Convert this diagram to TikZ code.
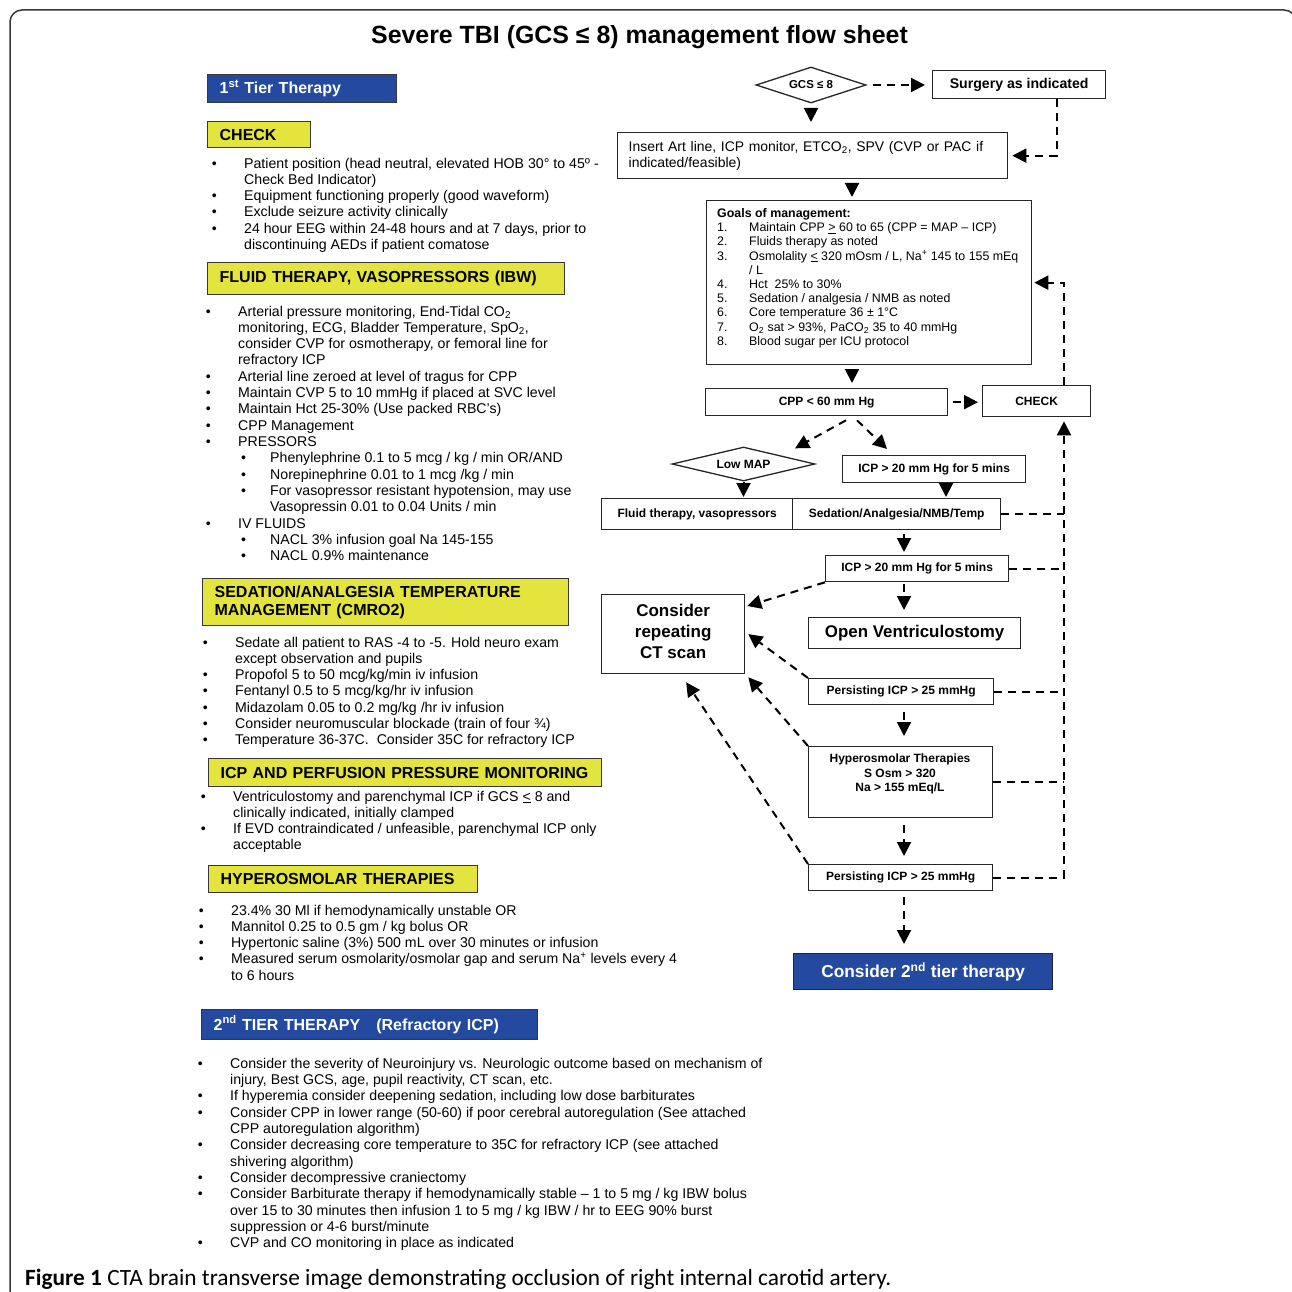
\documentclass[tikz,border=0pt]{standalone}
\usepackage{fontspec}
\setmainfont{Liberation Sans}
\newfontfamily\capfont{Carlito}
\usetikzlibrary{arrows.meta,shapes.geometric,calc}
\definecolor{ylw}{RGB}{228,228,62}
\definecolor{blu}{RGB}{35,74,158}
\definecolor{frm}{RGB}{55,55,55}
\newcommand\blist[2]{\vtop{\baselineskip=#1\lineskiplimit=-100pt\lineskip=0pt\halign{##\hfil\cr#2\crcr}}}
\newcommand\clist[2]{\vtop{\baselineskip=#1\lineskiplimit=-100pt\lineskip=0pt\halign{\hfil##\hfil\cr#2\crcr}}}
\newcommand\bi{\makebox[32.3pt][l]{•}}
\newcommand\ci{\hskip32.3pt}
\newcommand\sbi{\hskip35.3pt\makebox[29pt][l]{•}}
\newcommand\sci{\hskip64.3pt}
\newcommand\gn[1]{\makebox[32pt][l]{#1}}
\begin{document}
\begin{tikzpicture}[x=1pt,y=-1pt,
  hb/.style={draw=frm, line width=1.3pt, anchor=north west, inner xsep=12pt, inner ysep=0pt, align=left, font=\fontsize{16}{18}\selectfont\bfseries},
  fb/.style={draw=black!85, line width=1.3pt, anchor=north west, inner sep=0pt, font=\fontsize{12}{14}\selectfont\bfseries},
  dia/.style={diamond, draw=black!85, line width=1.3pt, inner sep=0pt},
  lst/.style={anchor=base west, inner sep=0pt, font=\fontsize{14.15}{16.3}\selectfont},
  sa/.style={line width=2pt, -{Triangle[width=14pt,length=14pt]}},
  da/.style={sa, dash pattern=on 8pt off 6pt},
  dl/.style={line width=2pt, dash pattern=on 8pt off 6pt}]
\useasboundingbox (0,0) rectangle (1292,1292);
\begin{scope}
\clip (0,0) rectangle (1292,1292);
\draw[line width=1.5pt, frm, rounded corners=12pt] (10,1330) -- (10,10) -- (1296,10) -- (1296,1330);
\end{scope}

\node[font=\fontsize{24.9}{28}\selectfont\bfseries] (title) at (639.5,37) {Severe TBI (GCS ≤ 8) management flow sheet};

% ---------- left column ----------
\node[hb, fill=blu, text=white, minimum height=28pt, text width=165pt] (t1) at (207,74) {\mbox{1\textsuperscript{st} Tier Therapy}};
\node[hb, fill=ylw, minimum height=26pt, text width=79pt] (hchk) at (207,121) {\mbox{CHECK}};
\node[lst] (lchk) at (211.7,168) {\blist{16.3pt}{%
\bi Patient position (head neutral, elevated HOB 30° to 45º -\cr
\ci Check Bed Indicator)\cr
\bi Equipment functioning properly (good waveform)\cr
\bi Exclude seizure activity clinically\cr
\bi 24 hour EEG within 24-48 hours and at 7 days, prior to\cr
\ci discontinuing AEDs if patient comatose}};

\node[hb, fill=ylw, minimum height=32pt, text width=333pt] (hfl) at (207,262) {\mbox{FLUID THERAPY, VASOPRESSORS (IBW)}};
\node[lst] (lfl) at (205.7,316) {\blist{16.33pt}{%
\bi Arterial pressure monitoring, End-Tidal CO\textsubscript{2}\cr
\ci monitoring, ECG, Bladder Temperature, SpO\textsubscript{2},\cr
\ci consider CVP for osmotherapy, or femoral line for\cr
\ci refractory ICP\cr
\bi Arterial line zeroed at level of tragus for CPP\cr
\bi Maintain CVP 5 to 10 mmHg if placed at SVC level\cr
\bi Maintain Hct 25-30\% (Use packed RBC’s)\cr
\bi CPP Management\cr
\bi PRESSORS\cr
\sbi Phenylephrine 0.1 to 5 mcg / kg / min OR/AND\cr
\sbi Norepinephrine 0.01 to 1 mcg /kg / min\cr
\sbi For vasopressor resistant hypotension, may use\cr
\sci Vasopressin 0.01 to 0.04 Units / min\cr
\bi IV FLUIDS\cr
\sbi NACL 3\% infusion goal Na 145-155\cr
\sbi NACL 0.9\% maintenance}};

\node[hb, fill=ylw, minimum height=47pt, text width=342pt] (hsed) at (202,578) {\mbox{SEDATION/ANALGESIA TEMPERATURE}\\\mbox{MANAGEMENT (CMRO2)}};
\node[lst] (lsed) at (202.7,647) {\blist{16.3pt}{%
\bi Sedate all patient to RAS -4 to -5. Hold neuro exam\cr
\ci except observation and pupils\cr
\bi Propofol 5 to 50 mcg/kg/min iv infusion\cr
\bi Fentanyl 0.5 to 5 mcg/kg/hr iv infusion\cr
\bi Midazolam 0.05 to 0.2 mg/kg /hr iv infusion\cr
\bi Consider neuromuscular blockade (train of four ¾)\cr
\bi Temperature 36-37C.\ \ Consider 35C for refractory ICP}};

\node[hb, fill=ylw, minimum height=28pt, text width=369pt] (hicp) at (208,758) {\mbox{ICP AND PERFUSION PRESSURE MONITORING}};
\node[lst] (licp) at (200.7,801) {\blist{16.3pt}{%
\bi Ventriculostomy and parenchymal ICP if GCS \underline{<} 8 and\cr
\ci clinically indicated, initially clamped\cr
\bi If EVD contraindicated / unfeasible, parenchymal ICP only\cr
\ci acceptable}};

\node[hb, fill=ylw, minimum height=27pt, text width=245pt] (hhyp) at (208,865) {\mbox{HYPEROSMOLAR THERAPIES}};
\node[lst] (lhyp) at (198.7,915) {\blist{16.3pt}{%
\bi 23.4\% 30 Ml if hemodynamically unstable OR\cr
\bi Mannitol 0.25 to 0.5 gm / kg bolus OR\cr
\bi Hypertonic saline (3\%) 500 mL over 30 minutes or infusion\cr
\bi Measured serum osmolarity/osmolar gap and serum Na\textsuperscript{+} levels every 4\cr
\ci to 6 hours}};

\node[hb, fill=blu, text=white, minimum height=30pt, text width=312pt] (t2) at (201,1009) {\mbox{2\textsuperscript{nd} TIER THERAPY\ \ \ (Refractory ICP)}};
\node[lst] (lt2) at (197.7,1068) {\blist{16.36pt}{%
\bi Consider the severity of Neuroinjury vs. Neurologic outcome based on mechanism of\cr
\ci injury, Best GCS, age, pupil reactivity, CT scan, etc.\cr
\bi If hyperemia consider deepening sedation, including low dose barbiturates\cr
\bi Consider CPP in lower range (50-60) if poor cerebral autoregulation (See attached\cr
\ci CPP autoregulation algorithm)\cr
\bi Consider decreasing core temperature to 35C for refractory ICP (see attached\cr
\ci shivering algorithm)\cr
\bi Consider decompressive craniectomy\cr
\bi Consider Barbiturate therapy if hemodynamically stable – 1 to 5 mg / kg IBW bolus\cr
\ci over 15 to 30 minutes then infusion 1 to 5 mg / kg IBW / hr to EEG 90\% burst\cr
\ci suppression or 4-6 burst/minute\cr
\bi CVP and CO monitoring in place as indicated}};

\node[anchor=base west, inner sep=0pt, font=\capfont\fontsize{23.3}{26}\selectfont] (cap) at (25,1285) {\textbf{Figure 1} CTA brain transverse image demonstrating occlusion of right internal carotid artery.};

% ---------- flowchart ----------
\node[dia, aspect=3.05, minimum width=110pt, minimum height=36pt, font=\fontsize{11.5}{13}\selectfont\bfseries] (gcs) at (811,85) {GCS ≤ 8};
\node[fb, minimum width=173pt, minimum height=28pt, font=\fontsize{14.1}{16}\selectfont\bfseries] (surg) at (932,70) {Surgery as indicated};
\node[fb, minimum width=390pt, minimum height=46pt, text width=368pt, inner xsep=11pt, align=left, font=\fontsize{13.95}{16}\selectfont] (ins) at (617,132) {\mbox{Insert Art line, ICP monitor, ETCO\textsubscript{2}, SPV (CVP or PAC if}\\indicated/feasible)};
\node[fb, minimum width=325pt, minimum height=164pt] (goals) at (706,200) {};
\node[anchor=base west, inner sep=0pt, font=\fontsize{12.4}{14.2}\selectfont] (goalst) at (717,217.5) {\blist{14.2pt}{%
\textbf{Goals of management:}\cr
\gn{1.}Maintain CPP \underline{>} 60 to 65 (CPP = MAP – ICP)\cr
\gn{2.}Fluids therapy as noted\cr
\gn{3.}Osmolality \underline{<} 320 mOsm / L, Na\textsuperscript{+} 145 to 155 mEq\cr
\gn{}/ L\cr
\gn{4.}Hct\ \ 25\% to 30\%\cr
\gn{5.}Sedation / analgesia / NMB as noted\cr
\gn{6.}Core temperature 36 ± 1°C\cr
\gn{7.}O\textsubscript{2} sat > 93\%, PaCO\textsubscript{2} 35 to 40 mmHg\cr
\gn{8.}Blood sugar per ICU protocol}};
\node[fb, minimum width=242pt, minimum height=27pt] (cpp) at (705,388) {CPP < 60 mm Hg};
\node[fb, minimum width=108pt, minimum height=31pt] (chk) at (982,385) {CHECK};
\node[dia, aspect=4.2, minimum width=143pt, minimum height=34pt, font=\fontsize{12}{14}\selectfont\bfseries] (lmap) at (743.5,464) {Low MAP};
\node[fb, minimum width=183pt, minimum height=27pt] (icp1) at (842,455) {ICP > 20 mm Hg for 5 mins};
\node[fb, minimum width=191pt, minimum height=31pt] (flu) at (601,498) {Fluid therapy, vasopressors};
\node[fb, minimum width=208pt, minimum height=31pt] (sed) at (792,498) {Sedation/Analgesia/NMB/Temp};
\node[fb, minimum width=183pt, minimum height=26pt] (icp2) at (825,555) {ICP > 20 mm Hg for 5 mins};
\node[fb, minimum width=143pt, minimum height=79pt, text height=12.4pt, text depth=48pt, font=\fontsize{17}{21}\selectfont\bfseries] (ct) at (601,594) {\clist{21pt}{Consider\cr repeating\cr CT scan}};
\node[fb, minimum width=212pt, minimum height=31pt, font=\fontsize{16.9}{19}\selectfont\bfseries] (ov) at (808,617) {Open Ventriculostomy};
\node[fb, minimum width=185pt, minimum height=26pt] (pers1) at (808,678) {Persisting ICP > 25 mmHg};
\node[fb, minimum width=184pt, minimum height=71pt] (hyp) at (808,746) {};
\node[anchor=base, inner sep=0pt, font=\fontsize{12}{14.5}\selectfont\bfseries] (hypt) at (900,762.5) {\clist{14.5pt}{Hyperosmolar Therapies\cr S Osm > 320\cr Na > 155 mEq/L}};
\node[fb, minimum width=184pt, minimum height=26pt] (pers2) at (808,864) {Persisting ICP > 25 mmHg};
\node[fb, fill=blu, text=white, minimum width=259pt, minimum height=36pt, font=\fontsize{17.3}{20}\selectfont\bfseries] (cons2) at (793,953) {Consider 2\textsuperscript{nd} tier therapy};

\coordinate (ax) at (852,0);
\coordinate (bx) at (904,0);
\coordinate (ix) at (946,0);
\coordinate (sx) at (1057,0);
\coordinate (trk) at (1064,0);

\draw[sa, shorten <=4pt, shorten >=10pt] (gcs.south) -- (gcs.south |- ins.north);
\draw[da, shorten <=6pt, shorten >=7pt] (gcs.east) -- (gcs.east -| surg.west);
\draw[da, shorten >=4pt] (surg.south -| sx) |- (ins.east);
\draw[sa, shorten <=4pt, shorten >=3pt] (ins.south -| ax) -- (goals.north -| ax);
\draw[sa, shorten <=4pt, shorten >=5pt] (goals.south -| ax) -- (cpp.north -| ax);
\draw[da, shorten <=5pt, shorten >=4pt] (cpp.east) -- (cpp.east -| chk.west);
\draw[da, shorten >=2pt] (chk.north -| trk) |- (goals.east);
\draw[da, shorten >=4pt] (pers2.east) -| (chk.south -| trk);
\draw[dl] (sed.east) -- (sed.east -| trk);
\draw[dl] (icp2.east) -- (icp2.east -| trk);
\draw[dl] (pers1.east) -- (pers1.east -| trk);
\draw[dl] (hyp.east) -- (hyp.east -| trk);
\draw[da] ($(cpp.south -| ax)+(-6,4)$) -- ($(lmap.north)+(51.5,2)$);
\draw[da] ($(cpp.south -| ax)+(5,4)$) -- ($(icp1.north west)+(45,-6)$);
\draw[sa, shorten >=1pt] (lmap.south) -- (lmap.south |- flu.north);
\draw[sa, shorten >=1pt] (icp1.south -| ix) -- (sed.north -| ix);
\draw[sa, shorten <=4pt, shorten >=3pt] (sed.south -| bx) -- (icp2.north -| bx);
\draw[da, shorten <=2pt, shorten >=7pt] (icp2.south -| bx) -- (ov.north -| bx);
\draw[da, shorten <=7pt, shorten >=10pt] (pers1.south -| bx) -- (hyp.north -| bx);
\draw[da, shorten <=7pt, shorten >=8pt] (hyp.south -| bx) -- (pers2.north -| bx);
\draw[da, shorten <=6pt, shorten >=9pt] (pers2.south -| bx) -- (cons2.north -| bx);
\draw[da] (icp2.south west) -- ($(ct.north east)+(2,12)$);
\draw[da] (pers1.north west) -- ($(ct.east)+(3,0)$);
\draw[da] (hyp.north west) -- ($(ct.south east)+(3,3)$);
\draw[da] (pers2.north west) -- ($(ct.south)+(13,8)$);
\end{tikzpicture}
\end{document}
